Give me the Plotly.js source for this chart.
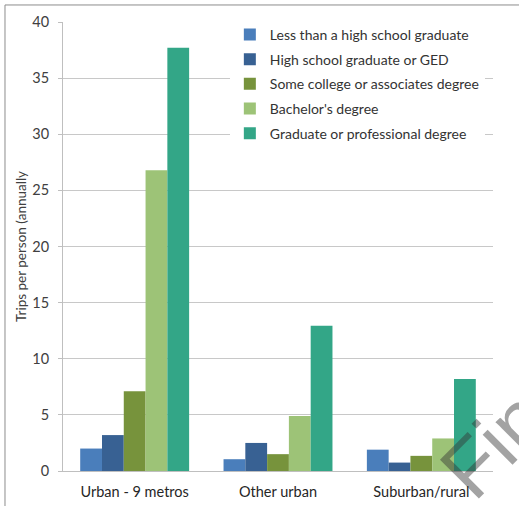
<!DOCTYPE html>
<html>
<head>
<meta charset="utf-8">
<script src="https://cdn.plot.ly/plotly-3.0.1.min.js"></script>
<style>html,body{margin:0;padding:0;background:#fff;}#chart{width:519px;height:506px;}</style>
</head>
<body>
<div id="chart"></div>
<script>
const categories = ["Urban - 9 metros", "Other urban", "Suburban/rural"];
const seriesNames = [
  "Less than a high school graduate",
  "High school graduate or GED",
  "Some college or associates degree",
  "Bachelor's degree",
  "Graduate or professional degree"
];
const lessThanHS = [2.0, 1.05, 1.9];
const hsOrGED = [3.2, 2.5, 0.75];
const someCollege = [7.1, 1.5, 1.35];
const bachelors = [26.8, 4.9, 2.9];
const graduate = [37.7, 12.95, 8.2];
const seriesValues = [lessThanHS, hsOrGED, someCollege, bachelors, graduate];
const colors = ["#4a7ebb", "#386193", "#77933c", "#9dc377", "#33a687"];
const yTitle = "Trips per person (annually";
const watermark = "Fin";

const font = "Lato, 'Open Sans', sans-serif";

const traces = seriesNames.map((name, i) => ({
  type: "bar",
  name: name,
  x: categories,
  y: seriesValues[i],
  legendgroup: "g" + i,
  marker: {color: colors[i], line: {width: 0}},
  hoverinfo: "skip"
}));

const layout = {
  width: 519,
  height: 506,
  margin: {l: 63, r: 26, t: 22, b: 35},
  paper_bgcolor: "#fff",
  plot_bgcolor: "#fff",
  barmode: "group",
  bargap: 0.24,
  bargroupgap: 0,
  showlegend: true,
  font: {family: font, color: "#404040", size: 13},
  legend: {
    x: 0.388, y: 1.007, xanchor: "left", yanchor: "top",
    bgcolor: "#ffffff",
    borderwidth: 0,
    font: {family: font, size: 14, color: "#333333"},
    tracegroupgap: 3.5,
    itemclick: false
  },
  xaxis: {
    type: "category",
    showgrid: false,
    showline: true,
    linecolor: "#bfbfbf",
    linewidth: 1,
    ticks: "",
    ticklabelstandoff: 8,
    tickfont: {family: font, size: 14.5, color: "#262626"},
    fixedrange: true
  },
  yaxis: {
    range: [0, 40],
    dtick: 5,
    showgrid: true,
    gridcolor: "#c8c8c8",
    gridwidth: 1,
    zeroline: true,
    zerolinecolor: "#bfbfbf",
    showline: true,
    linecolor: "#bfbfbf",
    ticks: "outside",
    ticklen: 4,
    tickcolor: "#bfbfbf",
    ticklabelstandoff: 6,
    tickfont: {family: font, size: 14.5, color: "#404040"},
    title: {text: yTitle, font: {family: font, size: 13.5, color: "#404040"}, standoff: 2},
    fixedrange: true
  },
  shapes: [
    {type: "line", xref: "paper", yref: "paper", x0: -0.1349, x1: 1.2, y0: 1.0379, y1: 1.0379, line: {color: "#8c8c8c", width: 1}},
    {type: "line", xref: "paper", yref: "paper", x0: -0.1349, x1: -0.1349, y0: 1.0379, y1: -0.2, line: {color: "#8c8c8c", width: 1}}
  ],
  annotations: [
    {text: watermark, xref: "paper", yref: "paper", x: 1.003, y: 0.058, xanchor: "center", yanchor: "middle",
     textangle: -45, showarrow: false, font: {family: "Liberation Sans, Arial, sans-serif", size: 80, color: "rgba(50,50,50,0.45)"}}
  ]
};

Plotly.newPlot("chart", traces, layout, {displayModeBar: false, staticPlot: true});
</script>
</body>
</html>
